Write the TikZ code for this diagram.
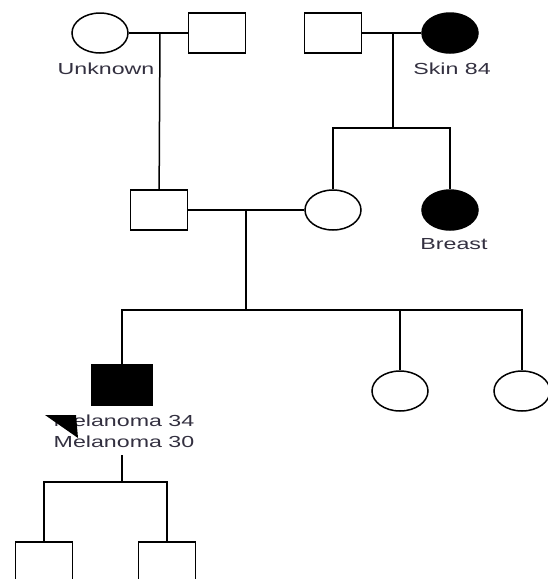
\documentclass[tikz,border=0pt]{standalone}
\usepackage{fontspec}
\newfontfamily\pedfont[FakeStretch=1.45]{Liberation Sans}
\usetikzlibrary{shapes.geometric}
\definecolor{labelgray}{rgb}{0.2,0.19,0.25}
\begin{document}
\begin{tikzpicture}[x=1pt,y=-1pt,line width=1.5pt,
	male/.style={draw,rectangle,minimum width=57pt,minimum height=40pt,inner sep=0pt},
	female/.style={draw,ellipse,minimum width=56pt,minimum height=40pt,inner sep=0pt},
	affected/.style={fill=black},
	lbl/.style={font=\pedfont\fontsize{16}{21}\selectfont,text=labelgray,align=center,inner sep=0pt}]
		\useasboundingbox (0,0) rectangle (547,579);
		% grandparents
		\node[female] (gmp) at (100,33) {};
		\node[male] (gfp) at (217,33) {};
		\node[male] (gfm) at (333,33) {};
		\node[female,affected] (gmm) at (450,33) {};
		\node[lbl] (lgmp) at (106,69) {Unknown};
		\node[lbl] (lgmm) at (452,69) {Skin 84};
		% parents and aunt
		\node[male] (fa) at (159,210) {};
		\node[female] (mo) at (333,210) {};
		\node[female,affected] (au) at (450,210) {};
		\node[lbl] (lau) at (454,244) {Breast};
		% proband and sisters
		\node[male,affected,minimum width=60pt,minimum height=41pt] (pb) at (122,385) {};
		\node[female] (si1) at (400,391) {};
		\node[female] (si2) at (522,391) {};
		\node[lbl] (lpb) at (124,431) {Melanoma 34\\Melanoma 30};
		% children
		\node[male] (ch1) at (44,562) {};
		\node[male] (ch2) at (167,562) {};
		% marriage and descent lines
		\coordinate (m1) at (160,33);
		\coordinate (m2) at (393,33);
		\coordinate (m3) at (246,210);
		\coordinate (s2) at (393,128);
		\coordinate (s3) at (246,310);
		\coordinate (s4) at (122,482);
		\draw (gmp) -- (gfp);
		\draw (gfm) -- (gmm);
		\draw (m1) -- (fa);
		\draw (m2) -- (s2);
		\draw (mo.north) |- (s2) -| (au.north);
		\draw (fa) -- (mo);
		\draw (m3) -- (s3);
		\draw (pb.north) |- (s3) -| (si2.north);
		\draw (si1.north) -- (si1.north |- s3);
		\draw (s4) ++(0,-27) -- (s4);
		\draw (ch1.north) |- (s4) -| (ch2.north);
		% proband arrow
		\fill (45,415) -- (76,415) -- (78,438) -- cycle;
\end{tikzpicture}
\end{document}
